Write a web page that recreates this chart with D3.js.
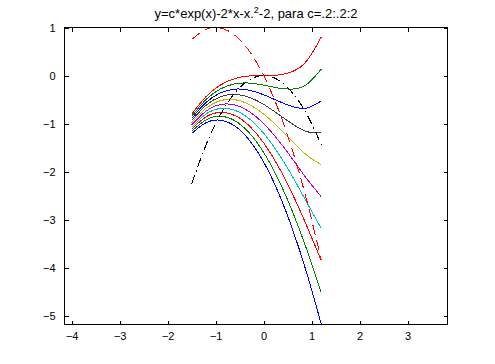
<!DOCTYPE html>
<html>
<head>
<meta charset="utf-8">
<script src="https://cdn.jsdelivr.net/npm/d3@7"></script>
<style>
  html, body { margin: 0; padding: 0; background: #fff; }
  svg { display: block; }
  text { font-family: "Liberation Sans", Arial, Helvetica, sans-serif; fill: #000; }
</style>
</head>
<body>
<svg id="chart" width="495" height="364"></svg>
<script>
// ---- data ----
const xValues = [-1.5, -1.2, -0.9, -0.6, -0.3, 0, 0.3, 0.6, 0.9, 1.2];
const cValues = [0.2, 0.4, 0.6, 0.8, 1.0, 1.2, 1.4, 1.6, 1.8, 2.0];
const curve02 = [-1.205, -0.980, -0.929, -1.050, -1.342, -1.800, -2.420, -3.196, -4.118, -5.176];
const curve04 = [-1.161, -0.920, -0.847, -0.940, -1.194, -1.600, -2.150, -2.831, -3.626, -4.512];
const curve06 = [-1.116, -0.859, -0.766, -0.831, -1.046, -1.400, -1.880, -2.467, -3.134, -3.848];
const curve08 = [-1.072, -0.799, -0.685, -0.721, -0.897, -1.200, -1.610, -2.102, -2.642, -3.184];
const curve10 = [-1.027, -0.739, -0.603, -0.611, -0.749, -1.000, -1.340, -1.738, -2.150, -2.520];
const curve12 = [-0.982, -0.679, -0.522, -0.501, -0.601, -0.800, -1.070, -1.373, -1.658, -1.856];
const curve14 = [-0.938, -0.618, -0.441, -0.392, -0.453, -0.600, -0.800, -1.009, -1.167, -1.192];
const curve16 = [-0.893, -0.558, -0.360, -0.282, -0.305, -0.400, -0.530, -0.645, -0.675, -0.528];
const curve18 = [-0.848, -0.498, -0.278, -0.172, -0.157, -0.200, -0.260, -0.280, -0.183, 0.136];
const curve20 = [-0.804, -0.438, -0.197, -0.062, -0.008, 0.000, 0.010, 0.084, 0.309, 0.800];
const inflectionLocus = [0.75, 0.96, 0.99, 0.84, 0.51, 0.00, -0.69, -1.56, -2.61, -3.84];
const extremumLocus = [-2.25, -1.44, -0.81, -0.36, -0.09, 0.00, -0.09, -0.36, -0.81, -1.44];
const xTicks = [-4, -3, -2, -1, 0, 1, 2, 3];
const yTicks = [-5, -4, -3, -2, -1, 0, 1];
const titleMain = "y=c*exp(x)-2*x-x.";
const titleSup = "2";
const titleRest = "-2, para c=.2:.2:2";

const seriesList = [curve02, curve04, curve06, curve08, curve10, curve12, curve14, curve16, curve18, curve20];
const colorOrder = ["#0000ff", "#008000", "#ff0000", "#00bfbf", "#bf00bf", "#bfbf00", "#404040"];

// ---- layout ----
const svg = d3.select("#chart");
const L = 64.5, R = 447.5, T = 27.5, B = 324.5;
const x = d3.scaleLinear().domain([-4.15, 3.83]).range([L, R]);
const y = d3.scaleLinear().domain([-5.18, 1.0]).range([B, T]);

const line = d3.line()
  .x((d, i) => x(xValues[i]))
  .y(d => y(d))
  .curve(d3.curveNatural);

const plot = svg.append("g");
plot.append("defs").append("clipPath").attr("id", "clip")
  .append("rect").attr("x", L).attr("y", T).attr("width", R - L).attr("height", B - T);

const g = plot.append("g").attr("clip-path", "url(#clip)");

seriesList.forEach((s, i) => {
  g.append("path")
    .attr("d", line(s))
    .attr("fill", "none")
    .attr("stroke", colorOrder[i % colorOrder.length])
    .attr("stroke-width", 1)
    .attr("shape-rendering", "crispEdges");
});

g.append("path")
  .attr("d", line(inflectionLocus))
  .attr("fill", "none")
  .attr("stroke", "#ff0000")
  .attr("stroke-width", 1)
  .attr("stroke-dasharray", "10,6")
  .attr("shape-rendering", "crispEdges");

g.append("path")
  .attr("d", line(extremumLocus))
  .attr("fill", "none")
  .attr("stroke", "#000000")
  .attr("stroke-width", 1)
  .attr("stroke-dasharray", "9,4,1,4")
  .attr("shape-rendering", "crispEdges");

// ---- axes (Matlab style box with inward ticks) ----
const tickLen = 4;
const axBottom = d3.axisBottom(x).tickValues(xTicks).tickSize(-tickLen).tickPadding(8).tickFormat(d3.format("d"));
const axTop = d3.axisTop(x).tickValues(xTicks).tickSize(-tickLen).tickFormat("");
const axLeft = d3.axisLeft(y).tickValues(yTicks).tickSize(-tickLen).tickPadding(9).tickFormat(d3.format("d"));
const axRight = d3.axisRight(y).tickValues(yTicks).tickSize(-tickLen).tickFormat("");

function styleAxis(sel) {
  sel.select(".domain").remove();
  sel.selectAll("line").attr("stroke", "#000").attr("shape-rendering", "crispEdges");
  sel.selectAll("text").attr("font-size", "11px").attr("fill", "#000")
    .attr("font-family", "'Liberation Sans', Arial, sans-serif");
}

svg.append("g").attr("transform", `translate(0,${B})`).call(axBottom).call(styleAxis);
svg.append("g").attr("transform", `translate(0,${T})`).call(axTop).call(styleAxis);
svg.append("g").attr("transform", `translate(${L},0)`).call(axLeft).call(styleAxis);
svg.append("g").attr("transform", `translate(${R},0)`).call(axRight).call(styleAxis);

svg.append("rect")
  .attr("x", L).attr("y", T).attr("width", R - L).attr("height", B - T)
  .attr("fill", "none").attr("stroke", "#000").attr("stroke-width", 1)
  .attr("shape-rendering", "crispEdges");

// ---- title ----
const title = svg.append("text")
  .attr("x", (L + R) / 2)
  .attr("y", 18)
  .attr("text-anchor", "middle")
  .attr("font-size", "13px");
title.append("tspan").text(titleMain);
title.append("tspan").attr("dy", -5).attr("font-size", "9px").text(titleSup);
title.append("tspan").attr("dy", 5).text(titleRest);
</script>
</body>
</html>
